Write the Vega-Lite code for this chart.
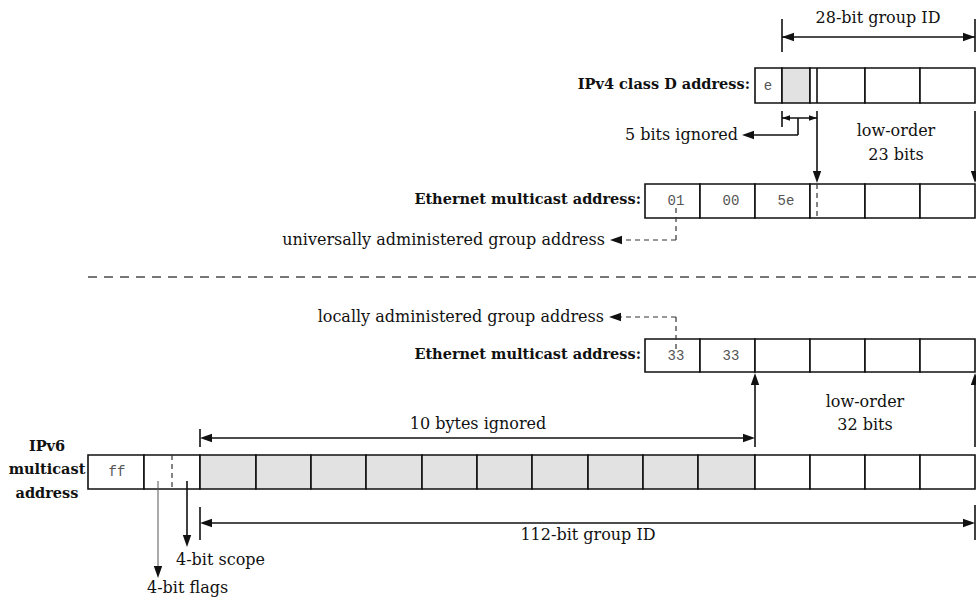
{
  "$schema": "https://vega.github.io/schema/vega-lite/v6.json",
  "width": 976,
  "height": 598,
  "padding": 0,
  "autosize": {"type": "none"},
  "background": "white",
  "config": {"view": {"stroke": null}},
  "datasets": {
    "cells": [
      {"box": "ipv4", "x": 755, "x2": 782, "y": 68, "y2": 103, "shade": "plain"},
      {"box": "ipv4", "x": 782, "x2": 810, "y": 68, "y2": 103, "shade": "ignored"},
      {"box": "ipv4", "x": 810, "x2": 865, "y": 68, "y2": 103, "shade": "plain"},
      {"box": "ipv4", "x": 865, "x2": 920, "y": 68, "y2": 103, "shade": "plain"},
      {"box": "ipv4", "x": 920, "x2": 975, "y": 68, "y2": 103, "shade": "plain"},
      {"box": "eth4", "x": 645, "x2": 700, "y": 184, "y2": 218, "shade": "plain"},
      {"box": "eth4", "x": 700, "x2": 755, "y": 184, "y2": 218, "shade": "plain"},
      {"box": "eth4", "x": 755, "x2": 810, "y": 184, "y2": 218, "shade": "plain"},
      {"box": "eth4", "x": 810, "x2": 865, "y": 184, "y2": 218, "shade": "plain"},
      {"box": "eth4", "x": 865, "x2": 920, "y": 184, "y2": 218, "shade": "plain"},
      {"box": "eth4", "x": 920, "x2": 975, "y": 184, "y2": 218, "shade": "plain"},
      {"box": "eth6", "x": 645, "x2": 700, "y": 339, "y2": 372, "shade": "plain"},
      {"box": "eth6", "x": 700, "x2": 755, "y": 339, "y2": 372, "shade": "plain"},
      {"box": "eth6", "x": 755, "x2": 810, "y": 339, "y2": 372, "shade": "plain"},
      {"box": "eth6", "x": 810, "x2": 865, "y": 339, "y2": 372, "shade": "plain"},
      {"box": "eth6", "x": 865, "x2": 920, "y": 339, "y2": 372, "shade": "plain"},
      {"box": "eth6", "x": 920, "x2": 975, "y": 339, "y2": 372, "shade": "plain"},
      {"box": "ipv6", "x": 88, "x2": 144, "y": 455, "y2": 489, "shade": "plain"},
      {"box": "ipv6", "x": 144, "x2": 200, "y": 455, "y2": 489, "shade": "plain"},
      {"box": "ipv6", "x": 200, "x2": 256, "y": 455, "y2": 489, "shade": "ignored"},
      {"box": "ipv6", "x": 256, "x2": 311, "y": 455, "y2": 489, "shade": "ignored"},
      {"box": "ipv6", "x": 311, "x2": 366, "y": 455, "y2": 489, "shade": "ignored"},
      {"box": "ipv6", "x": 366, "x2": 422, "y": 455, "y2": 489, "shade": "ignored"},
      {"box": "ipv6", "x": 422, "x2": 477, "y": 455, "y2": 489, "shade": "ignored"},
      {"box": "ipv6", "x": 477, "x2": 532, "y": 455, "y2": 489, "shade": "ignored"},
      {"box": "ipv6", "x": 532, "x2": 588, "y": 455, "y2": 489, "shade": "ignored"},
      {"box": "ipv6", "x": 588, "x2": 643, "y": 455, "y2": 489, "shade": "ignored"},
      {"box": "ipv6", "x": 643, "x2": 698, "y": 455, "y2": 489, "shade": "ignored"},
      {"box": "ipv6", "x": 698, "x2": 755, "y": 455, "y2": 489, "shade": "ignored"},
      {"box": "ipv6", "x": 755, "x2": 810, "y": 455, "y2": 489, "shade": "plain"},
      {"box": "ipv6", "x": 810, "x2": 865, "y": 455, "y2": 489, "shade": "plain"},
      {"box": "ipv6", "x": 865, "x2": 920, "y": 455, "y2": 489, "shade": "plain"},
      {"box": "ipv6", "x": 920, "x2": 975, "y": 455, "y2": 489, "shade": "plain"}
    ],
    "lines": [
      {"kind": "solid", "x": 782, "y": 37, "x2": 975, "y2": 37},
      {"kind": "solid", "x": 782, "y": 19, "x2": 782, "y2": 52},
      {"kind": "solid", "x": 975, "y": 19, "x2": 975, "y2": 52},
      {"kind": "solid", "x": 817, "y": 68, "x2": 817, "y2": 103},
      {"kind": "solid", "x": 782, "y": 118, "x2": 817, "y2": 118},
      {"kind": "solid", "x": 782, "y": 111, "x2": 782, "y2": 127},
      {"kind": "solid", "x": 817, "y": 111, "x2": 817, "y2": 176},
      {"kind": "solid", "x": 975, "y": 111, "x2": 975, "y2": 176},
      {"kind": "solid", "x": 798, "y": 118, "x2": 798, "y2": 135},
      {"kind": "solid", "x": 798, "y": 135, "x2": 748, "y2": 135},
      {"kind": "solid", "x": 755, "y": 380, "x2": 755, "y2": 447},
      {"kind": "solid", "x": 975, "y": 380, "x2": 975, "y2": 447},
      {"kind": "solid", "x": 206, "y": 438, "x2": 749, "y2": 438},
      {"kind": "solid", "x": 200, "y": 429, "x2": 200, "y2": 447},
      {"kind": "solid", "x": 206, "y": 523, "x2": 969, "y2": 523},
      {"kind": "solid", "x": 200, "y": 507, "x2": 200, "y2": 540},
      {"kind": "solid", "x": 975, "y": 505, "x2": 975, "y2": 540},
      {"kind": "solid", "x": 187, "y": 481, "x2": 187, "y2": 540},
      {"kind": "thin", "x": 158, "y": 481, "x2": 158, "y2": 571},
      {"kind": "dashed", "x": 817, "y": 184, "x2": 817, "y2": 218},
      {"kind": "dashed", "x": 172, "y": 455, "x2": 172, "y2": 489},
      {"kind": "dashed", "x": 676, "y": 208, "x2": 676, "y2": 240},
      {"kind": "dashed", "x": 676, "y": 240, "x2": 616, "y2": 240},
      {"kind": "dashed", "x": 676, "y": 317, "x2": 616, "y2": 317},
      {"kind": "dashed", "x": 676, "y": 317, "x2": 676, "y2": 350},
      {"kind": "separator", "x": 88, "y": 277, "x2": 976, "y2": 277}
    ],
    "heads": [
      {"kind": "big", "x": 782, "y": 37, "dir": "left"},
      {"kind": "big", "x": 975, "y": 37, "dir": "right"},
      {"kind": "small", "x": 782, "y": 118, "dir": "left"},
      {"kind": "small", "x": 817, "y": 118, "dir": "right"},
      {"kind": "big", "x": 742, "y": 135, "dir": "left"},
      {"kind": "big", "x": 817, "y": 183, "dir": "down"},
      {"kind": "big", "x": 975, "y": 183, "dir": "down"},
      {"kind": "big", "x": 610, "y": 240, "dir": "left"},
      {"kind": "big", "x": 609, "y": 317, "dir": "left"},
      {"kind": "big", "x": 755, "y": 373, "dir": "up"},
      {"kind": "big", "x": 975, "y": 373, "dir": "up"},
      {"kind": "big", "x": 200, "y": 438, "dir": "left"},
      {"kind": "big", "x": 755, "y": 438, "dir": "right"},
      {"kind": "big", "x": 200, "y": 523, "dir": "left"},
      {"kind": "big", "x": 975, "y": 523, "dir": "right"},
      {"kind": "big", "x": 187, "y": 547, "dir": "down"},
      {"kind": "big", "x": 158, "y": 578, "dir": "down"}
    ],
    "labels": [
      {"kind": "title", "x": 750, "y": 85, "text": "IPv4 class D address:"},
      {"kind": "title", "x": 641, "y": 200, "text": "Ethernet multicast address:"},
      {"kind": "title", "x": 641, "y": 355, "text": "Ethernet multicast address:"},
      {"kind": "titlec", "x": 47, "y": 447, "text": "IPv6"},
      {"kind": "titlec", "x": 47, "y": 470, "text": "multicast"},
      {"kind": "titlec", "x": 47, "y": 494, "text": "address"},
      {"kind": "note", "x": 878, "y": 18, "text": "28-bit group ID"},
      {"kind": "note", "x": 896, "y": 131, "text": "low-order"},
      {"kind": "note", "x": 896, "y": 155, "text": "23 bits"},
      {"kind": "note", "x": 865, "y": 402, "text": "low-order"},
      {"kind": "note", "x": 865, "y": 425, "text": "32 bits"},
      {"kind": "note", "x": 478, "y": 424, "text": "10 bytes ignored"},
      {"kind": "note", "x": 588, "y": 535, "text": "112-bit group ID"},
      {"kind": "noteleft", "x": 176, "y": 560, "text": "4-bit scope"},
      {"kind": "noteleft", "x": 147, "y": 588, "text": "4-bit flags"},
      {"kind": "noteright", "x": 738, "y": 135, "text": "5 bits ignored"},
      {"kind": "noteright", "x": 605, "y": 240, "text": "universally administered group address"},
      {"kind": "noteright", "x": 604, "y": 317, "text": "locally administered group address"},
      {"kind": "hex", "x": 768, "y": 86, "text": "e"},
      {"kind": "hex", "x": 676, "y": 201, "text": "01"},
      {"kind": "hex", "x": 731, "y": 201, "text": "00"},
      {"kind": "hex", "x": 786, "y": 201, "text": "5e"},
      {"kind": "hex", "x": 676, "y": 356, "text": "33"},
      {"kind": "hex", "x": 731, "y": 356, "text": "33"},
      {"kind": "hex", "x": 117, "y": 472, "text": "ff"}
    ]
  },
  "layer": [
    {
      "data": {"name": "cells"},
      "mark": {"type": "rect", "stroke": "#111", "strokeWidth": 1.6},
      "encoding": {
        "x": {"field": "x", "type": "quantitative", "axis": null, "scale": {"domain": [0, 976], "nice": false, "zero": false}},
        "x2": {"field": "x2"},
        "y": {"field": "y", "type": "quantitative", "axis": null, "scale": {"domain": [0, 598], "nice": false, "zero": false, "reverse": true}},
        "y2": {"field": "y2"},
        "fill": {"field": "shade", "type": "nominal", "legend": null, "scale": {"domain": ["plain", "ignored"], "range": ["#ffffff", "#e2e2e2"]}}
      }
    },
    {
      "data": {"name": "lines"},
      "transform": [{"filter": "datum.kind === 'solid'"}],
      "mark": {"type": "rule", "color": "#111", "strokeWidth": 1.6},
      "encoding": {
        "x": {"field": "x", "type": "quantitative"},
        "x2": {"field": "x2"},
        "y": {"field": "y", "type": "quantitative"},
        "y2": {"field": "y2"}
      }
    },
    {
      "data": {"name": "lines"},
      "transform": [{"filter": "datum.kind === 'thin'"}],
      "mark": {"type": "rule", "color": "#555", "strokeWidth": 1},
      "encoding": {
        "x": {"field": "x", "type": "quantitative"},
        "x2": {"field": "x2"},
        "y": {"field": "y", "type": "quantitative"},
        "y2": {"field": "y2"}
      }
    },
    {
      "data": {"name": "lines"},
      "transform": [{"filter": "datum.kind === 'dashed'"}],
      "mark": {"type": "rule", "color": "#333", "strokeWidth": 1.2, "strokeDash": [5, 4]},
      "encoding": {
        "x": {"field": "x", "type": "quantitative"},
        "x2": {"field": "x2"},
        "y": {"field": "y", "type": "quantitative"},
        "y2": {"field": "y2"}
      }
    },
    {
      "data": {"name": "lines"},
      "transform": [{"filter": "datum.kind === 'separator'"}],
      "mark": {"type": "rule", "color": "#777", "strokeWidth": 2, "strokeDash": [9, 7]},
      "encoding": {
        "x": {"field": "x", "type": "quantitative"},
        "x2": {"field": "x2"},
        "y": {"field": "y", "type": "quantitative"},
        "y2": {"field": "y2"}
      }
    },
    {
      "data": {"name": "heads"},
      "transform": [{"filter": "datum.kind === 'big'"}],
      "mark": {"type": "point", "filled": true, "color": "#111", "opacity": 1, "size": 144, "strokeWidth": 0},
      "encoding": {
        "x": {"field": "x", "type": "quantitative"},
        "y": {"field": "y", "type": "quantitative"},
        "shape": {"field": "dir", "type": "nominal", "legend": null, "scale": {"domain": ["right", "down", "left", "up"], "range": ["M0,0L-2,-0.7L-2,0.7Z", "M0,0L-0.7,-2L0.7,-2Z", "M0,0L2,-0.7L2,0.7Z", "M0,0L-0.7,2L0.7,2Z"]}}
      }
    },
    {
      "data": {"name": "heads"},
      "transform": [{"filter": "datum.kind === 'small'"}],
      "mark": {"type": "point", "filled": true, "color": "#111", "opacity": 1, "size": 64, "strokeWidth": 0},
      "encoding": {
        "x": {"field": "x", "type": "quantitative"},
        "y": {"field": "y", "type": "quantitative"},
        "shape": {"field": "dir", "type": "nominal", "legend": null}
      }
    },
    {
      "data": {"name": "labels"},
      "transform": [{"filter": "datum.kind === 'title'"}],
      "mark": {"type": "text", "font": "DejaVu Serif", "fontSize": 14.5, "fontWeight": "bold", "align": "right", "baseline": "middle", "color": "#111"},
      "encoding": {
        "x": {"field": "x", "type": "quantitative"},
        "y": {"field": "y", "type": "quantitative"},
        "text": {"field": "text"}
      }
    },
    {
      "data": {"name": "labels"},
      "transform": [{"filter": "datum.kind === 'titlec'"}],
      "mark": {"type": "text", "font": "DejaVu Serif", "fontSize": 14.5, "fontWeight": "bold", "align": "center", "baseline": "middle", "color": "#111"},
      "encoding": {
        "x": {"field": "x", "type": "quantitative"},
        "y": {"field": "y", "type": "quantitative"},
        "text": {"field": "text"}
      }
    },
    {
      "data": {"name": "labels"},
      "transform": [{"filter": "datum.kind === 'note'"}],
      "mark": {"type": "text", "font": "DejaVu Serif", "fontSize": 16, "align": "center", "baseline": "middle", "color": "#111"},
      "encoding": {
        "x": {"field": "x", "type": "quantitative"},
        "y": {"field": "y", "type": "quantitative"},
        "text": {"field": "text"}
      }
    },
    {
      "data": {"name": "labels"},
      "transform": [{"filter": "datum.kind === 'noteleft'"}],
      "mark": {"type": "text", "font": "DejaVu Serif", "fontSize": 16, "align": "left", "baseline": "middle", "color": "#111"},
      "encoding": {
        "x": {"field": "x", "type": "quantitative"},
        "y": {"field": "y", "type": "quantitative"},
        "text": {"field": "text"}
      }
    },
    {
      "data": {"name": "labels"},
      "transform": [{"filter": "datum.kind === 'noteright'"}],
      "mark": {"type": "text", "font": "DejaVu Serif", "fontSize": 16, "align": "right", "baseline": "middle", "color": "#111"},
      "encoding": {
        "x": {"field": "x", "type": "quantitative"},
        "y": {"field": "y", "type": "quantitative"},
        "text": {"field": "text"}
      }
    },
    {
      "data": {"name": "labels"},
      "transform": [{"filter": "datum.kind === 'hex'"}],
      "mark": {"type": "text", "font": "Liberation Mono", "fontSize": 14, "align": "center", "baseline": "middle", "color": "#555"},
      "encoding": {
        "x": {"field": "x", "type": "quantitative"},
        "y": {"field": "y", "type": "quantitative"},
        "text": {"field": "text"}
      }
    }
  ]
}
